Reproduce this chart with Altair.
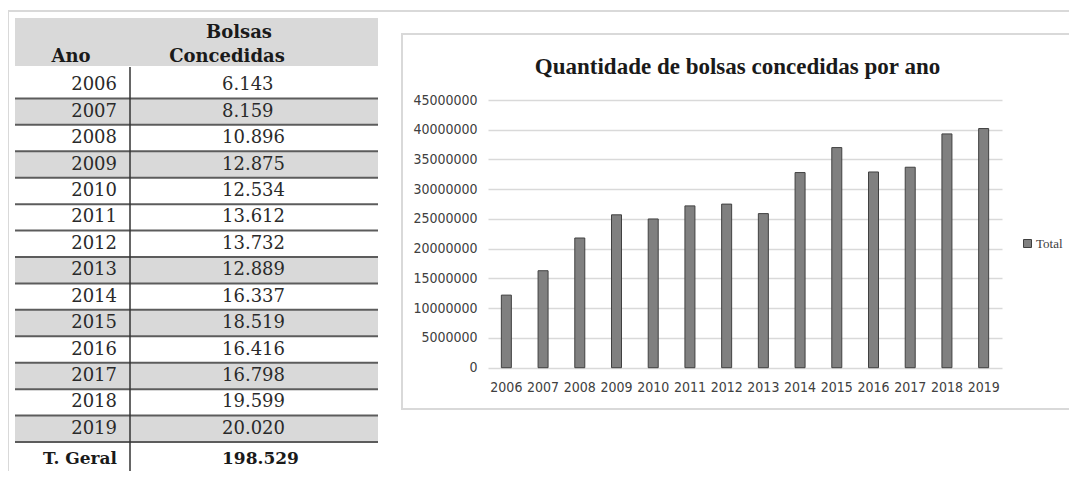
import altair as alt
import pandas as pd

# ---------------- data ----------------
anos = ["2006", "2007", "2008", "2009", "2010", "2011", "2012",
        "2013", "2014", "2015", "2016", "2017", "2018", "2019"]
bolsas_concedidas = ["6.143", "8.159", "10.896", "12.875", "12.534", "13.612", "13.732",
                     "12.889", "16.337", "18.519", "16.416", "16.798", "19.599", "20.020"]
total_geral = "198.529"

chart_values = [12200000, 16300000, 21800000, 25700000, 25000000, 27200000, 27500000,
                25900000, 32800000, 37000000, 32900000, 33700000, 39300000, 40200000]
y_ticks = [0, 5000000, 10000000, 15000000, 20000000, 25000000,
           30000000, 35000000, 40000000, 45000000]
series_name = "Total"
chart_title = "Quantidade de bolsas concedidas por ano"
header_ano = "Ano"
header_bolsas = ["Bolsas", "Concedidas"]
total_label = "T. Geral"

# ---------------- styles ----------------
SHADED_ROWS = ["2007", "2009", "2013", "2015", "2017", "2019"]
W, H = 1061, 463
GRAY = "#d9d9d9"
SERIF_T = "DejaVu Serif"
AX_FONT = "DejaVu Sans Condensed, Liberation Sans Narrow, Liberation Sans"

tdf = pd.DataFrame({"ano": anos, "bolsas": bolsas_concedidas})
tdf["shade"] = tdf["ano"].isin(SHADED_ROWS)
cdf = pd.DataFrame({"ano": anos, "valor": chart_values, "serie": series_name})
one = pd.DataFrame({"k": [0]})

# ---------------- frame / boxes ----------------
frame_top = alt.Chart(one).mark_rule(color=GRAY, strokeWidth=2).encode(
    x=alt.value(0), x2=alt.value(W), y=alt.value(3))
frame_left = alt.Chart(one).mark_rule(color=GRAY, strokeWidth=2).encode(
    x=alt.value(0), y=alt.value(3), y2=alt.value(H))
chart_box = alt.Chart(one).mark_rect(fillOpacity=0, stroke=GRAY, strokeWidth=2).encode(
    x=alt.value(394), x2=alt.value(W + 10), y=alt.value(26), y2=alt.value(401))
header_rect = alt.Chart(one).mark_rect(color=GRAY).encode(
    x=alt.value(7), x2=alt.value(370), y=alt.value(10), y2=alt.value(58))

# ---------------- table ----------------
yscale = alt.Scale(range=[64, 434], paddingInner=0, paddingOuter=0)
yenc = alt.Y("ano:O", scale=yscale, axis=None)
base = alt.Chart(tdf)

rows_bg = base.transform_filter("datum.shade").mark_rect(color=GRAY).encode(
    y=yenc, x=alt.value(7), x2=alt.value(370))
seps = base.mark_rule(color="#5c5c5c", strokeWidth=2).encode(
    y=alt.Y("ano:O", scale=yscale, axis=None, bandPosition=1),
    x=alt.value(7), x2=alt.value(370))
year_txt = base.mark_text(align="right", baseline="middle", font=SERIF_T,
                          fontSize=18, color="#2a2a2a").encode(
    y=yenc, x=alt.value(109), text="ano:N")
val_txt = base.mark_text(align="left", baseline="middle", font=SERIF_T,
                         fontSize=18, color="#2a2a2a").encode(
    y=yenc, x=alt.value(214), text="bolsas:N")
table = alt.layer(rows_bg, seps, year_txt, val_txt)

vline = alt.Chart(one).mark_rule(color="#333333", strokeWidth=1.5).encode(
    x=alt.value(122), y=alt.value(59), y2=alt.value(H))

def label(txt, x, y, align="center", size=18):
    return alt.Chart(one).mark_text(text=txt, align=align, baseline="alphabetic",
                                    font=SERIF_T, fontSize=size, fontWeight="bold",
                                    color="#1a1a1a").encode(x=alt.value(x), y=alt.value(y))

h_ano = label(header_ano, 63, 54)
h_b1 = label(header_bolsas[0], 231, 30)
h_b2 = label(header_bolsas[1], 219, 54)
t_lab = label(total_label, 109, 456, "right", 17)
t_val = label(total_geral, 214, 456, "left", 17)

# ---------------- bar chart ----------------
title_mark = alt.Chart(one).mark_text(text=chart_title, align="center", baseline="alphabetic",
                                      font="Liberation Serif", fontSize=23, fontWeight="bold",
                                      color="#1a1a1a").encode(x=alt.value(729.5), y=alt.value(66))

bars = alt.Chart(cdf).mark_bar(size=10, stroke="#404040", strokeWidth=1).encode(
    x=alt.X("ano:O", title=None,
            scale=alt.Scale(range=[480, 994], paddingInner=0, paddingOuter=0),
            axis=alt.Axis(orient="bottom", offset=359.7 - H, domain=False, ticks=False,
                          labelPadding=13, labelAngle=0, labelOverlap=False, grid=False,
                          labelFont=AX_FONT, labelFontSize=14, labelColor="#404040")),
    y=alt.Y("valor:Q", title=None,
            scale=alt.Scale(domain=[0, 45000000], range=[359.7, 92], nice=False),
            axis=alt.Axis(orient="left", offset=-480, values=y_ticks, format="d",
                          grid=True, gridColor=GRAY, gridWidth=1.5, domain=False,
                          ticks=False, labelPadding=11, labelFont=AX_FONT,
                          labelFontSize=14, labelColor="#404040")),
    color=alt.Color("serie:N", scale=alt.Scale(range=["#808080"]),
                    legend=alt.Legend(orient="none", legendX=1013, legendY=229, title=None,
                                      symbolType="square", symbolSize=64,
                                      symbolStrokeColor="#404040", symbolStrokeWidth=1,
                                      labelFont="Liberation Serif", labelFontSize=13,
                                      labelColor="#404040", labelOffset=2, padding=0)),
)

chart = alt.layer(
    frame_top, frame_left, chart_box, header_rect, table, vline,
    h_ano, h_b1, h_b2, t_lab, t_val, title_mark, bars
).resolve_scale(x="independent", y="independent").resolve_axis(
    x="independent", y="independent"
).properties(
    width=W, height=H, autosize=alt.AutoSizeParams(type="none"), padding=0
).configure_view(strokeWidth=0)

chart.save("out.html", embed_options={"renderer": "svg", "actions": False})
